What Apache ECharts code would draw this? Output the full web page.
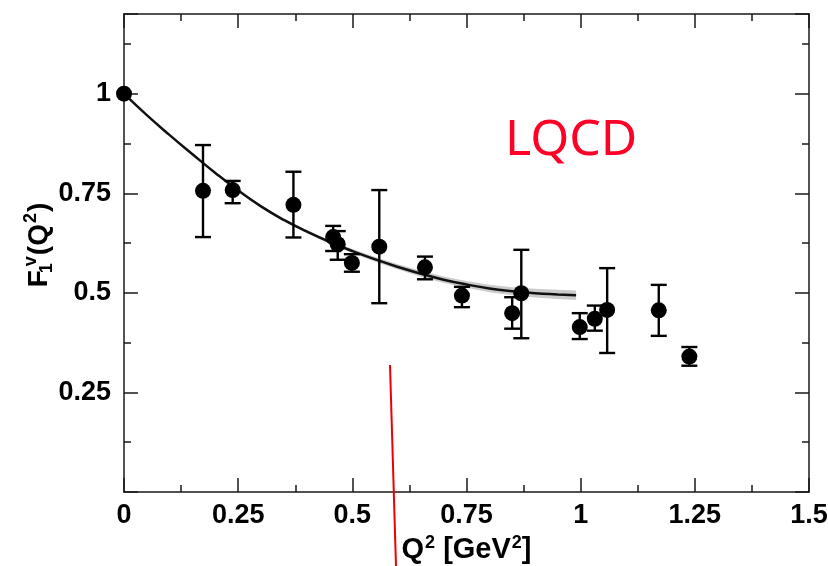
<!DOCTYPE html>
<html>
<head>
<meta charset="utf-8">
<script src="https://cdn.jsdelivr.net/npm/echarts@6/dist/echarts.min.js"></script>
<style>html,body{margin:0;padding:0;background:#fff}#c{width:828px;height:566px}</style>
</head>
<body>
<div id="c"></div>
<script>
// Data points F1^v(Q^2) with error bars
var q2   = [0, 0.173, 0.238, 0.371, 0.458, 0.468, 0.499, 0.559, 0.659, 0.740, 0.850, 0.870, 0.998, 1.031, 1.058, 1.171, 1.238];
var f1   = [1.0, 0.756, 0.758, 0.721, 0.640, 0.622, 0.575, 0.616, 0.564, 0.493, 0.449, 0.499, 0.414, 0.435, 0.457, 0.456, 0.340];
var errLo= [1.0, 0.640, 0.725, 0.639, 0.605, 0.583, 0.553, 0.474, 0.534, 0.464, 0.410, 0.386, 0.384, 0.405, 0.349, 0.392, 0.317];
var errHi= [1.0, 0.871, 0.781, 0.804, 0.668, 0.655, 0.597, 0.758, 0.591, 0.515, 0.489, 0.608, 0.449, 0.468, 0.562, 0.520, 0.364];

// Fit curve and its uncertainty band
var curveQ2 = [0, 0.05, 0.1, 0.15, 0.2, 0.25, 0.3, 0.35, 0.4, 0.45, 0.5, 0.55, 0.6, 0.65, 0.7, 0.75, 0.8, 0.85, 0.9, 0.95, 0.99];
var curveF  = [1.0, 0.946, 0.896, 0.848, 0.801, 0.757, 0.717, 0.683, 0.654, 0.628, 0.605, 0.584, 0.565, 0.548, 0.533, 0.521, 0.511, 0.504, 0.499, 0.496, 0.494];
var bandLo  = [1.0, 0.9455, 0.895, 0.8465, 0.799, 0.7545, 0.714, 0.6795, 0.650, 0.6235, 0.600, 0.578, 0.5585, 0.5405, 0.525, 0.5125, 0.5015, 0.494, 0.488, 0.4845, 0.482];
var bandHi  = [1.0, 0.9465, 0.897, 0.8495, 0.803, 0.7595, 0.720, 0.6865, 0.658, 0.6325, 0.610, 0.590, 0.5715, 0.5555, 0.541, 0.5295, 0.5205, 0.514, 0.510, 0.5075, 0.506];

var xTicks = [0, 0.25, 0.5, 0.75, 1, 1.25, 1.5];
var yTicks = [0.25, 0.5, 0.75, 1];

var chart = echarts.init(document.getElementById('c'));
var FONT = '"Liberation Sans", Arial, sans-serif';

var axisBase = {
  type: 'value',
  axisLine: {show: true, onZero: false, lineStyle: {color: '#1a1a1a', width: 1.5}},
  axisTick: {show: true, inside: true, length: 14, lineStyle: {color: '#1a1a1a', width: 1.5}},
  minorTick: {show: true, splitNumber: 2, length: 7, lineStyle: {color: '#1a1a1a', width: 1.5}},
  splitLine: {show: false},
  minorSplitLine: {show: false}
};

var option = {
  animation: false,
  backgroundColor: '#fff',
  grid: {left: 124, right: 19, top: 14, bottom: 74, containLabel: false, outerBoundsMode: 'none'},
  xAxis: [
    Object.assign({}, axisBase, {
      position: 'bottom', min: 0, max: 1.5, interval: 0.25,
      axisLabel: {show: true, margin: 10, fontSize: 27, fontWeight: 'bold', color: '#000', fontFamily: FONT,
        formatter: function (v) { return xTicks.indexOf(+v.toFixed(2)) >= 0 ? String(+v.toFixed(2)) : ''; }},
      name: 'Q{s|2} [GeV{s|2}]',
      nameLocation: 'middle', nameGap: 40,
      nameTextStyle: {fontSize: 29, color: '#000', fontFamily: FONT, fontWeight: 'bold', lineHeight: 32,
        rich: {s: {fontSize: 18, verticalAlign: 'top', lineHeight: 32, color: '#000', fontFamily: FONT, fontWeight: 'bold', padding: [0, 0, 14, 1]}}}
    }),
    Object.assign({}, axisBase, {
      position: 'top', min: 0, max: 1.5, interval: 0.25,
      axisLabel: {show: false}
    })
  ],
  yAxis: [
    Object.assign({}, axisBase, {
      position: 'left', min: 0, max: 1.2, interval: 0.25,
      axisLabel: {show: true, margin: 13, fontSize: 27, fontWeight: 'bold', color: '#000', fontFamily: FONT,
        showMinLabel: false, showMaxLabel: false,
        formatter: function (v) { var r = +v.toFixed(2); return yTicks.indexOf(r) >= 0 ? String(r) : ''; }},
      name: 'F{sub|1}{sup|v}(Q{sup|2})',
      nameLocation: 'middle', nameGap: 68, nameRotate: 90, nameMoveOverlap: false,
      nameTextStyle: {fontSize: 28, color: '#000', fontFamily: FONT, fontWeight: 'bold', lineHeight: 34, padding: [0, 0, 0, 16],
        rich: {
          sub: {fontSize: 18, verticalAlign: 'bottom', lineHeight: 34, width: 2, color: '#000', fontFamily: FONT, fontWeight: 'bold', padding: [0, 0, 0, 1]},
          sup: {fontSize: 18, verticalAlign: 'top', lineHeight: 34, color: '#000', fontFamily: FONT, fontWeight: 'bold', padding: [0, 1, 0, 1]}
        }}
    }),
    Object.assign({}, axisBase, {
      position: 'right', min: 0, max: 1.2, interval: 0.25,
      axisLabel: {show: false}
    })
  ],
  graphic: [
    {type: 'text', left: 505, top: 116, z: 100,
      style: {text: 'LQCD', fill: '#ff0026', font: 'normal 50px "Noto Sans", sans-serif'}},
    {type: 'line', z: 100, shape: {x1: 390, y1: 365, x2: 396, y2: 566},
      style: {stroke: '#ee0000', lineWidth: 2}}
  ],
  series: [
    {
      type: 'custom', xAxisIndex: 0, yAxisIndex: 0, z: 1, silent: true,
      data: [[0, 0]],
      renderItem: function (params, api) {
        var pts = [];
        for (var i = 0; i < curveQ2.length; i++) pts.push(api.coord([curveQ2[i], bandHi[i]]));
        for (var j = curveQ2.length - 1; j >= 0; j--) pts.push(api.coord([curveQ2[j], bandLo[j]]));
        return {type: 'polygon', shape: {points: pts}, style: {fill: '#cccccc', stroke: null}};
      }
    },
    {
      type: 'line', xAxisIndex: 0, yAxisIndex: 0, z: 2, smooth: 0.5, showSymbol: false, silent: true,
      data: curveQ2.map(function (x, i) { return [x, curveF[i]]; }),
      lineStyle: {color: '#111', width: 2.5}
    },
    {
      type: 'custom', xAxisIndex: 0, yAxisIndex: 0, z: 3, silent: true,
      data: q2.map(function (x, i) { return [x, errLo[i], errHi[i]]; }),
      renderItem: function (params, api) {
        var x = api.value(0), lo = api.value(1), hi = api.value(2);
        if (hi - lo < 1e-6) return null;
        var a = api.coord([x, hi]), b = api.coord([x, lo]);
        var w = 8;
        var st = {stroke: '#000', lineWidth: 2.4};
        return {type: 'group', children: [
          {type: 'line', shape: {x1: a[0], y1: a[1], x2: b[0], y2: b[1]}, style: st},
          {type: 'line', shape: {x1: a[0] - w, y1: a[1], x2: a[0] + w, y2: a[1]}, style: st},
          {type: 'line', shape: {x1: b[0] - w, y1: b[1], x2: b[0] + w, y2: b[1]}, style: st}
        ]};
      }
    },
    {
      type: 'scatter', xAxisIndex: 0, yAxisIndex: 0, z: 4, silent: true,
      symbol: 'circle', symbolSize: 16,
      itemStyle: {color: '#000', opacity: 1},
      data: q2.map(function (x, i) { return [x, f1[i]]; })
    }
  ]
};
chart.setOption(option);
</script>
</body>
</html>
